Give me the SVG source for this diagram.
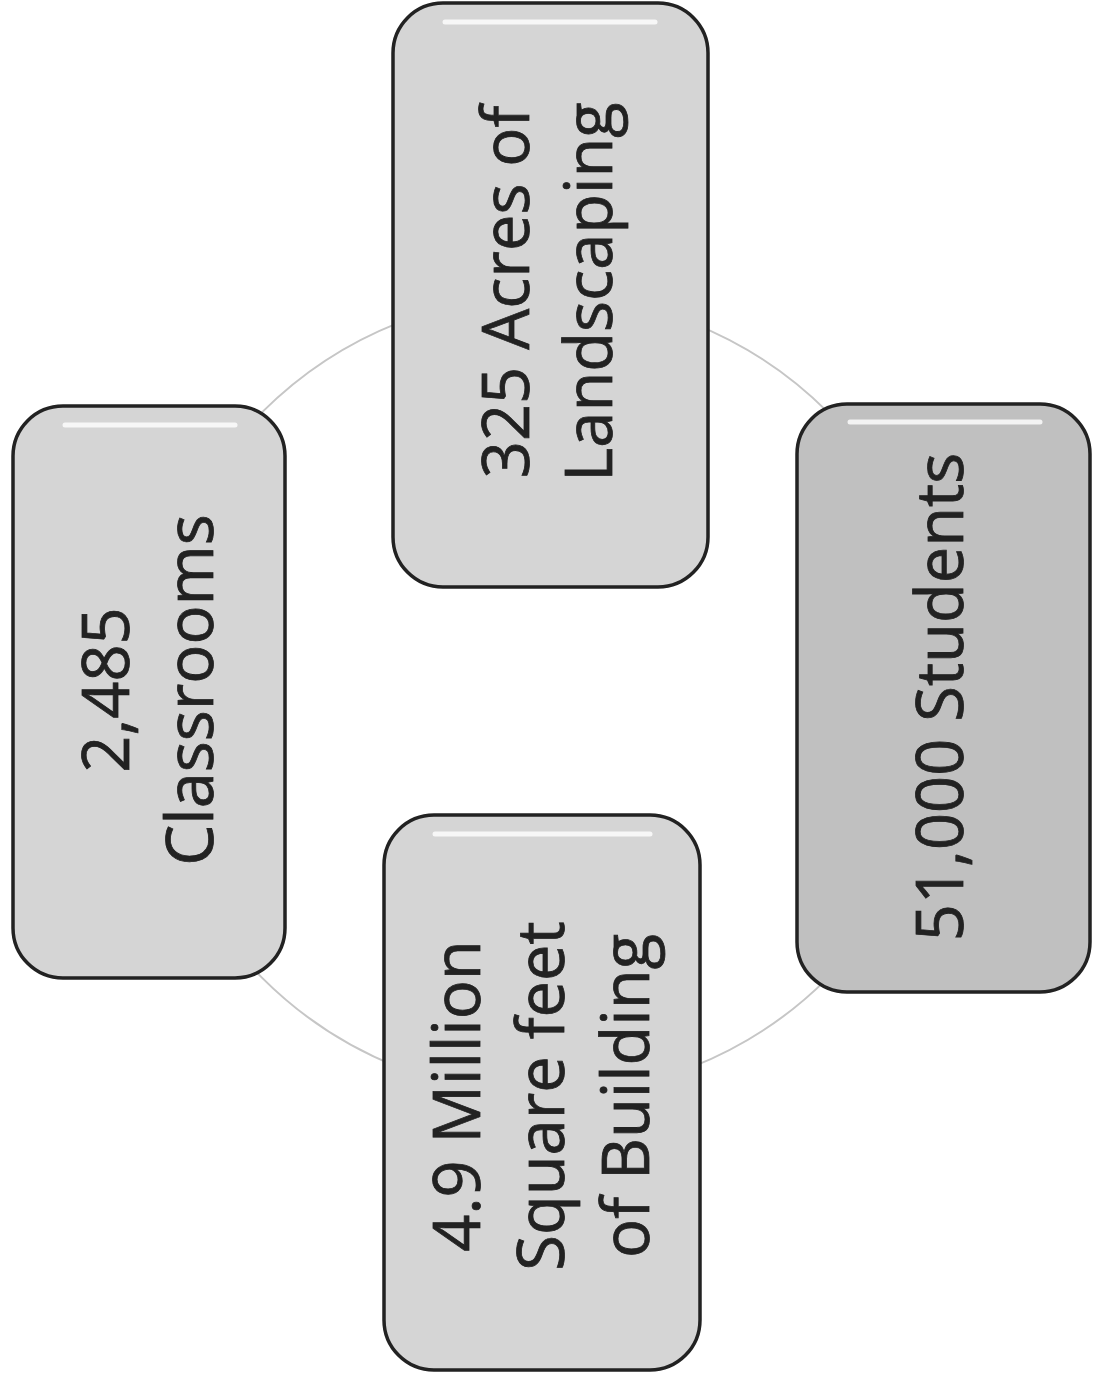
<svg xmlns="http://www.w3.org/2000/svg" width="1096" height="1384" viewBox="0 0 1096 1384">
<style>
.box{fill:#d5d5d5;stroke:#222222;stroke-width:3.5}
.dark{fill:#c0c0c0}
.hl{fill:none;stroke:#ffffff;stroke-width:5;stroke-linecap:round;opacity:0.8}
.lbl{font-family:"Open Sans","Liberation Sans",sans-serif;font-size:65px;fill:#222222;stroke:#222222;stroke-width:0.8;text-anchor:middle}
.conn{fill:none;stroke:#c6c6c6;stroke-width:2}
</style>
<rect width="1096" height="1384" fill="#ffffff"/>
<g id="connectors">
<circle class="conn" cx="545" cy="695" r="400"/>
</g>
<g id="node-landscaping">
<rect class="box" x="393" y="3" width="315" height="584" rx="50"/>
<path class="hl" d="M445 22 H655"/>
<text class="lbl" transform="translate(549,292) rotate(-90)"><tspan x="0" y="-20">325 Acres of</tspan><tspan x="0" y="63">Landscaping</tspan></text>
</g>
<g id="node-classrooms">
<rect class="box" x="13" y="406" width="272" height="572" rx="50"/>
<path class="hl" d="M65 425 H235"/>
<text class="lbl" transform="translate(148,690) rotate(-90)"><tspan x="0" y="-19">2,485</tspan><tspan x="0" y="65">Classrooms</tspan></text>
</g>
<g id="node-students">
<rect class="box dark" x="797" y="404" width="293" height="588" rx="50"/>
<path class="hl" d="M850 422 H1040"/>
<text class="lbl" transform="translate(942,697) rotate(-90)"><tspan x="0" y="21">51,000 Students</tspan></text>
</g>
<g id="node-building">
<rect class="box" x="384" y="815" width="316" height="555" rx="50"/>
<path class="hl" d="M435 834 H650"/>
<text class="lbl" transform="translate(541,1096) rotate(-90)"><tspan x="0" y="-61">4.9 Million</tspan><tspan x="0" y="23">Square feet</tspan><tspan x="0" y="108">of Building</tspan></text>
</g>
</svg>
